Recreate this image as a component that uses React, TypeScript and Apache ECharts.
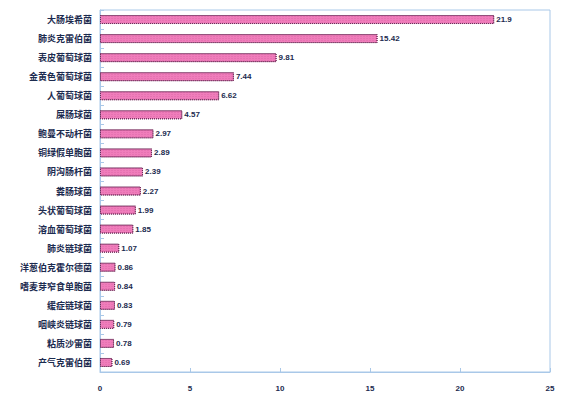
import React, { useEffect, useRef } from "react";
import * as echarts from "echarts";

const categories = [
  "大肠埃希菌",
  "肺炎克雷伯菌",
  "表皮葡萄球菌",
  "金黄色葡萄球菌",
  "人葡萄球菌",
  "屎肠球菌",
  "鲍曼不动杆菌",
  "铜绿假单胞菌",
  "阴沟肠杆菌",
  "粪肠球菌",
  "头状葡萄球菌",
  "溶血葡萄球菌",
  "肺炎链球菌",
  "洋葱伯克霍尔德菌",
  "嗜麦芽窄食单胞菌",
  "缓症链球菌",
  "咽峡炎链球菌",
  "粘质沙雷菌",
  "产气克雷伯菌",
];
const values = [21.9, 15.42, 9.81, 7.44, 6.62, 4.57, 2.97, 2.89, 2.39, 2.27, 1.99, 1.85, 1.07, 0.86, 0.84, 0.83, 0.79, 0.78, 0.69];
const xTicks = { min: 0, max: 25, interval: 5 };

export default function App() {
  const ref = useRef<HTMLDivElement>(null);
  useEffect(() => {
    if (!ref.current) return;
    const chart = echarts.init(ref.current, null, { renderer: "svg" });
    const navy = "#1c2b4f";
    const axisBlue = "#a9c8e8";
    chart.setOption({
      animation: false,
      backgroundColor: "#ffffff",
      grid: {
        left: 100,
        right: 19,
        top: 10,
        bottom: 23,
        show: true,
        borderColor: axisBlue,
        borderWidth: 1,
        containLabel: false,
      },
      xAxis: {
        type: "value",
        min: xTicks.min,
        max: xTicks.max,
        interval: xTicks.interval,
        axisLine: { show: true, lineStyle: { color: axisBlue } },
        axisTick: { show: true, inside: true, length: 4, lineStyle: { color: axisBlue } },
        splitLine: { show: false },
        axisLabel: {
          color: navy,
          fontSize: 8,
          fontWeight: "bold",
          fontFamily: "Liberation Sans",
          margin: 12,
        },
      },
      yAxis: {
        type: "category",
        data: categories,
        inverse: true,
        axisLine: { show: true, lineStyle: { color: axisBlue } },
        axisTick: { show: true, inside: true, length: 4, lineStyle: { color: axisBlue } },
        splitLine: { show: false },
        axisLabel: {
          color: navy,
          fontSize: 9,
          fontWeight: "bold",
          fontFamily: "Noto Sans CJK SC",
          margin: 8,
        },
      },
      series: [
        {
          type: "bar",
          data: values,
          barWidth: 9,
          itemStyle: {
            color: "#f07dbb",
            borderColor: "#6e2a58",
            borderWidth: 1,
            borderType: "dotted",
            decal: {
              symbol: "rect",
              symbolSize: 0.6,
              dashArrayX: [2, 1],
              dashArrayY: [1, 1],
              color: "rgba(160,40,110,0.4)",
              rotation: 0,
            },
          },
          label: {
            show: true,
            position: "right",
            distance: 2,
            color: navy,
            fontSize: 8,
            fontWeight: "bold",
            fontFamily: "Liberation Sans",
          },
        },
      ],
    });
    return () => chart.dispose();
  }, []);
  return (
    <div
      ref={ref}
      style={{ position: "fixed", left: 0, top: 0, width: 569, height: 395 }}
    />
  );
}
